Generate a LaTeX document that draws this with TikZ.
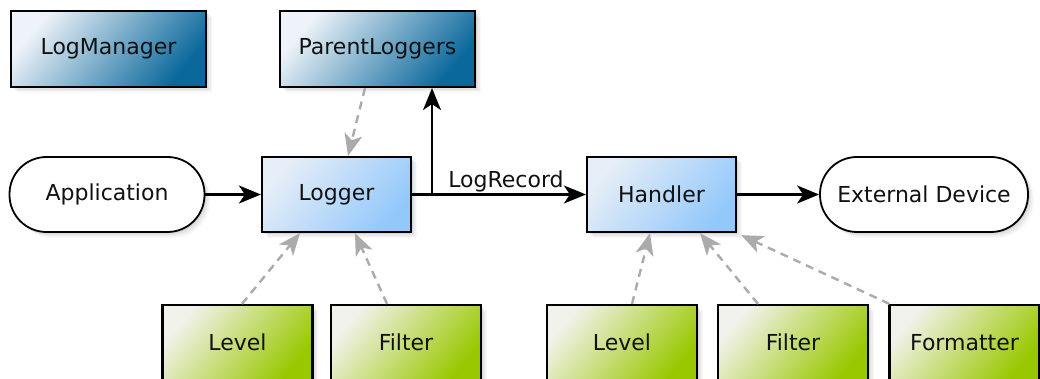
\documentclass[tikz,border=0pt]{standalone}
\usepackage{fontspec}
\setmainfont{DejaVu Sans}
\usetikzlibrary{arrows.meta,shadows,calc}
\definecolor{bluedark}{HTML}{0A689C}
\definecolor{bluelight}{HTML}{EEF3F9}
\definecolor{lblight}{HTML}{E6EEF7}
\definecolor{lbdark}{HTML}{93C8FB}
\definecolor{grlight}{HTML}{F2F2EC}
\definecolor{grdark}{HTML}{99C800}
\definecolor{txt}{HTML}{111111}
\tikzset{
  softshadow/.style={
    drop shadow={opacity=0.12, shadow xshift=1.5pt, shadow yshift=-1.5pt},
    drop shadow={opacity=0.10, shadow xshift=3pt, shadow yshift=-3pt},
    drop shadow={opacity=0.08, shadow xshift=4.5pt, shadow yshift=-4.5pt},
    drop shadow={opacity=0.06, shadow xshift=6pt, shadow yshift=-6pt}},
  base/.style={draw=black, line width=2.2pt, minimum height=75pt, inner sep=0pt,
    font=\fontsize{22}{26}\selectfont, text=txt, softshadow},
  mgr/.style={base, minimum width=195pt, minimum height=76pt,
    left color=bluelight, right color=bluedark, shading angle=50},
  core/.style={base, minimum width=149pt,
    left color=lblight, right color=lbdark, shading angle=50},
  aux/.style={base, minimum width=150pt,
    left color=grlight, right color=grdark, shading angle=50},
  term/.style={base, line width=1.8pt, fill=white, rounded corners=37pt},
  flow/.style={line width=2.2pt, -{Stealth[length=22pt,width=18pt,inset=6pt]}},
  dep/.style={line width=2.4pt, draw=black!33, dash pattern=on 8pt off 6pt,
    -{Stealth[length=22pt,width=18pt,inset=6pt,fill=black!33]}}
}
\begin{document}
\begin{tikzpicture}[x=1pt,y=-1pt]
\useasboundingbox (0,0) rectangle (1040,379);
\node[mgr] (lm) at (108.5,49) {LogManager};
\node[mgr] (pl) at (377.5,49) {ParentLoggers};
\node[term, minimum width=195pt] (app) at (107,194.5) {Application};
\node[core] (lg) at (336.5,194.5) {Logger};
\node[core] (hd) at (661.5,194.5) {Handler};
\node[term, minimum width=208pt] (ext) at (924,194.5) {External Device};
\node[aux] (lv1) at (237.5,342.5) {Level};
\node[aux] (fi1) at (406,342.5) {Filter};
\node[aux] (lv2) at (622,342.5) {Level};
\node[aux] (fi2) at (793,342.5) {Filter};
\node[aux] (fm) at (964.5,342.5) {Formatter};
\coordinate (br) at (432,194.5);
\draw[flow] (app) -- (lg);
\draw[flow] (lg) -- node[pos=0.54, above=-2pt, font=\fontsize{22}{26}\selectfont, text=txt] (lr) {LogRecord} (hd);
\draw[flow] (br) -- (br |- pl.south);
\draw[flow] (hd) -- (ext);
\draw[dep] ([xshift=-12.5pt]pl.south) -- ([xshift=11.5pt]lg.north);
\draw[dep] ([xshift=4.5pt]lv1.north) -- ([xshift=-36.5pt]lg.south);
\draw[dep] ([xshift=-19pt]fi1.north) -- ([xshift=18.5pt]lg.south);
\draw[dep] ([xshift=10pt]lv2.north) -- ([xshift=-11.5pt]hd.south);
\draw[dep] ([xshift=-35pt]fi2.north) -- ([xshift=38.5pt]hd.south);
\draw[dep] ([xshift=1pt]fm.north west) -- ([xshift=4pt,yshift=-2pt]hd.south east);
\end{tikzpicture}
\end{document}
